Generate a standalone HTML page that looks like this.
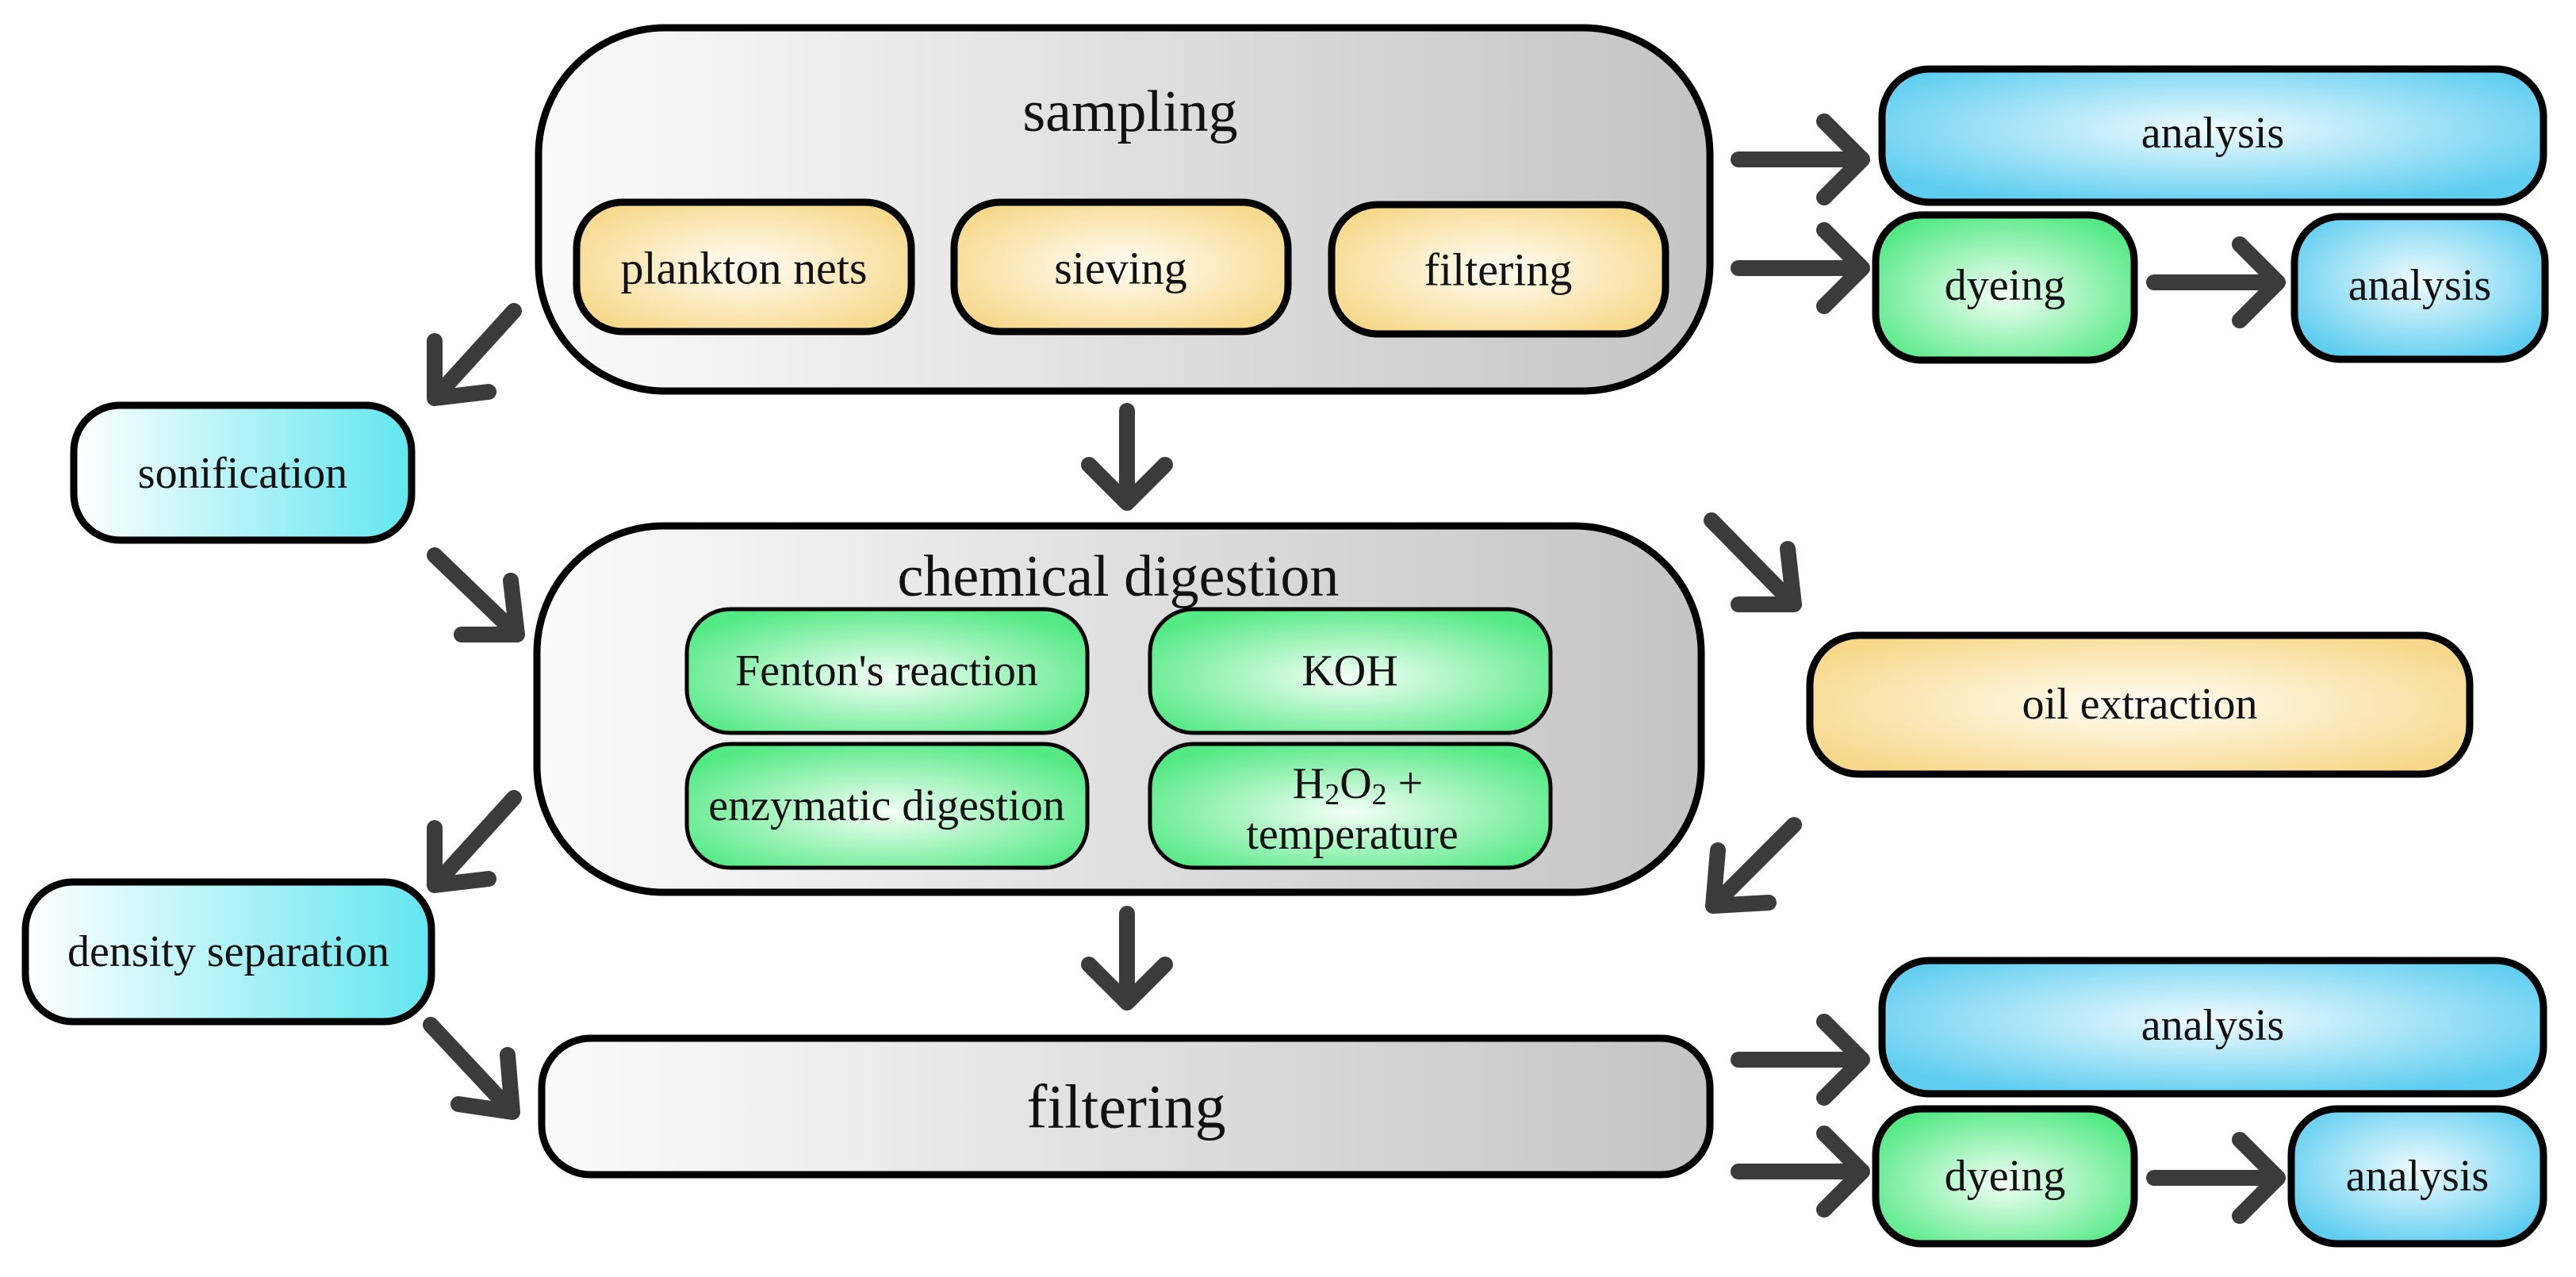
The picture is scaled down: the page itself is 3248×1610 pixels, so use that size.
<!DOCTYPE html>
<html><head><meta charset="utf-8"><style>
html,body{margin:0;padding:0;background:#fff;}
svg{display:block;}
svg text{font-family:"Liberation Serif","Times New Roman",serif !important;fill:#111;text-anchor:middle;dominant-baseline:central;}
</style></head><body>
<svg width="3248" height="1610" viewBox="0 0 3248 1610" xmlns="http://www.w3.org/2000/svg" font-family="Liberation Serif, serif">
<defs>
<linearGradient id="gray" x1="0" y1="0" x2="1" y2="0"><stop offset="0" stop-color="#fbfbfb"/><stop offset="1" stop-color="#c4c4c4"/></linearGradient>
<linearGradient id="cyan" x1="0" y1="0" x2="1" y2="0"><stop offset="0" stop-color="#ffffff"/><stop offset="1" stop-color="#62e6f0"/></linearGradient>
<radialGradient id="yel" cx="0.5" cy="0.5" r="0.6"><stop offset="0" stop-color="#fffdf5"/><stop offset="1" stop-color="#f7d88a"/></radialGradient>
<radialGradient id="grn" cx="0.5" cy="0.55" r="0.6"><stop offset="0" stop-color="#f4fff6"/><stop offset="1" stop-color="#55e985"/></radialGradient>
<radialGradient id="blu" cx="0.5" cy="0.45" r="0.6"><stop offset="0" stop-color="#f0fbff"/><stop offset="1" stop-color="#5fcdf0"/></radialGradient>
</defs>

<rect x="679" y="35" width="1477" height="458" rx="160" fill="url(#gray)" stroke="#000" stroke-width="9"/>
<text x="1425" y="141" font-size="74" font-family="Liberation Serif, serif">sampling</text>
<rect x="727" y="255" width="422" height="163" rx="58" fill="url(#yel)" stroke="#000" stroke-width="9"/>
<text x="938" y="338" font-size="58" font-family="Liberation Serif, serif">plankton nets</text>
<rect x="1203" y="255" width="421" height="163" rx="58" fill="url(#yel)" stroke="#000" stroke-width="9"/>
<text x="1413" y="338" font-size="58" font-family="Liberation Serif, serif">sieving</text>
<rect x="1679" y="258" width="421" height="163" rx="58" fill="url(#yel)" stroke="#000" stroke-width="9"/>
<text x="1889" y="340" font-size="58" font-family="Liberation Serif, serif">filtering</text>

<rect x="677" y="663" width="1468" height="462" rx="160" fill="url(#gray)" stroke="#000" stroke-width="9"/>
<text x="1410" y="727" font-size="74" font-family="Liberation Serif, serif">chemical digestion</text>
<rect x="866" y="768" width="505" height="156" rx="55" fill="url(#grn)" stroke="#000" stroke-width="5"/>
<text x="1118" y="846" font-size="56" font-family="Liberation Serif, serif">Fenton's reaction</text>
<rect x="1450" y="768" width="505" height="156" rx="55" fill="url(#grn)" stroke="#000" stroke-width="5"/>
<text x="1702" y="846" font-size="56" font-family="Liberation Serif, serif">KOH</text>
<rect x="866" y="938" width="505" height="156" rx="55" fill="url(#grn)" stroke="#000" stroke-width="5"/>
<text x="1118" y="1016" font-size="56" font-family="Liberation Serif, serif">enzymatic digestion</text>
<rect x="1450" y="938" width="505" height="156" rx="55" fill="url(#grn)" stroke="#000" stroke-width="5"/>
<text x="1712" y="988" font-size="56" font-family="Liberation Serif, serif">H<tspan font-size="38" dy="14">2</tspan><tspan dy="-14">O</tspan><tspan font-size="38" dy="14">2</tspan><tspan dy="-14"> +</tspan></text>
<text x="1705" y="1052" font-size="56" font-family="Liberation Serif, serif">temperature</text>

<rect x="683" y="1309" width="1473" height="172" rx="62" fill="url(#gray)" stroke="#000" stroke-width="9"/>
<text x="1420" y="1395" font-size="78" font-family="Liberation Serif, serif">filtering</text>

<rect x="93" y="511" width="426" height="170" rx="58" fill="url(#cyan)" stroke="#000" stroke-width="9"/>
<text x="306" y="597" font-size="56" font-family="Liberation Serif, serif">sonification</text>
<rect x="32" y="1112" width="512" height="176" rx="60" fill="url(#cyan)" stroke="#000" stroke-width="9"/>
<text x="288" y="1200" font-size="56" font-family="Liberation Serif, serif">density separation</text>

<rect x="2282" y="801" width="832" height="175" rx="62" fill="url(#yel)" stroke="#000" stroke-width="9"/>
<text x="2698" y="888" font-size="56" font-family="Liberation Serif, serif">oil extraction</text>

<rect x="2373" y="87" width="834" height="168" rx="60" fill="url(#blu)" stroke="#000" stroke-width="9"/>
<text x="2790" y="168" font-size="56" font-family="Liberation Serif, serif">analysis</text>
<rect x="2365" y="271" width="326" height="183" rx="58" fill="url(#grn)" stroke="#000" stroke-width="9"/>
<text x="2528" y="360" font-size="56" font-family="Liberation Serif, serif">dyeing</text>
<rect x="2893" y="273" width="316" height="180" rx="58" fill="url(#blu)" stroke="#000" stroke-width="9"/>
<text x="3051" y="360" font-size="56" font-family="Liberation Serif, serif">analysis</text>

<rect x="2373" y="1211" width="834" height="168" rx="60" fill="url(#blu)" stroke="#000" stroke-width="9"/>
<text x="2790" y="1293" font-size="56" font-family="Liberation Serif, serif">analysis</text>
<rect x="2365" y="1398" width="326" height="170" rx="58" fill="url(#grn)" stroke="#000" stroke-width="9"/>
<text x="2528" y="1483" font-size="56" font-family="Liberation Serif, serif">dyeing</text>
<rect x="2889" y="1398" width="318" height="170" rx="58" fill="url(#blu)" stroke="#000" stroke-width="9"/>
<text x="3048" y="1483" font-size="56" font-family="Liberation Serif, serif">analysis</text>

<g stroke="#3b3b3b" stroke-width="20" stroke-linecap="round" stroke-linejoin="round" fill="none">
<path d="M2192 201 H2348 M2300 153 L2348 201 L2300 249"/>
<path d="M2192 338 H2348 M2300 290 L2348 338 L2300 386"/>
<path d="M2716 356 H2872 M2824 308 L2872 356 L2824 404"/>
<path d="M2192 1336 H2348 M2300 1288 L2348 1336 L2300 1384"/>
<path d="M2192 1477 H2348 M2300 1429 L2348 1477 L2300 1525"/>
<path d="M2716 1485 H2872 M2824 1437 L2872 1485 L2824 1533"/>
<path d="M1421 518 V634 M1373 586 L1421 634 L1469 586"/>
<path d="M1421 1152 V1264 M1373 1216 L1421 1264 L1469 1216"/>
<path d="M648 392 L548 502 M548 430 L548 502 L616 494"/>
<path d="M548 700 L652 800 M644 732 L652 800 L582 800"/>
<path d="M2158 656 L2262 762 M2254 692 L2262 762 L2192 762"/>
<path d="M2262 1040 L2160 1142 M2166 1072 L2160 1142 L2230 1138"/>
<path d="M648 1006 L548 1116 M548 1044 L548 1116 L616 1108"/>
<path d="M543 1292 L646 1402 M640 1330 L646 1402 L578 1392"/>
</g>
</svg>
</body></html>
